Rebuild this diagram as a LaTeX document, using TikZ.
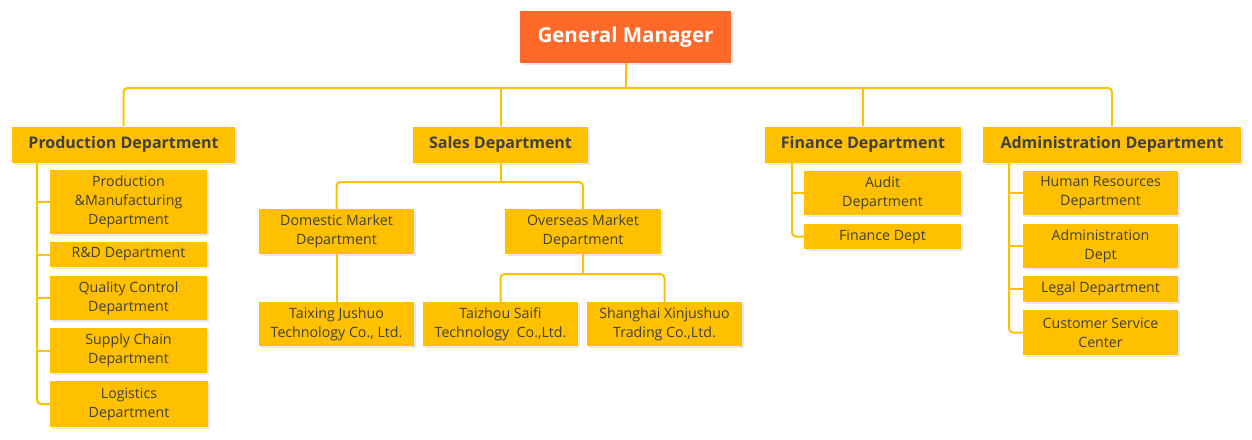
\documentclass[tikz,border=0pt]{standalone}
\usepackage{fontspec}
\setmainfont{Open Sans}
\usetikzlibrary{shadows}

\definecolor{gold}{HTML}{FFC000}
\definecolor{boss}{HTML}{FF6A2B}
\definecolor{ink}{HTML}{404040}

\begin{document}
\begin{tikzpicture}[x=1pt, y=-1pt,
	box/.style={fill=gold, text=ink, align=center, inner sep=0pt,
		drop shadow={opacity=0.18, shadow xshift=1.5pt, shadow yshift=-2pt}},
	headbox/.style={box, font=\bfseries\fontsize{16}{19}\selectfont, minimum height=36pt},
	subbox/.style={box, font=\fontsize{14.2}{19}\selectfont},
	link/.style={draw=gold, line width=2pt, rounded corners=4pt}]

\useasboundingbox (0,0) rectangle (1252,439);

% Draws the general manager at the top
\node[box, fill=boss, text=white, font=\bfseries\fontsize{20.5}{24}\selectfont,
	minimum width=211pt, minimum height=52pt] (gm) at (625.5,37) {General Manager};

% Draws the four main departments
\node[headbox, minimum width=223pt] (prod) at (123.5,144.5) {Production Department};
\node[headbox, minimum width=175pt] (sales) at (500.5,144.5) {Sales Department};
\node[headbox, minimum width=196pt] (fin) at (863,144.5) {Finance Department};
\node[headbox, minimum width=258pt] (admin) at (1112,144.5) {Administration Department};

% Draws the units below the production department
\node[subbox, minimum width=157pt, minimum height=64pt] (pm) at (128.5,202) {Production\\\&Manufacturing\\Department};
\node[subbox, minimum width=157pt, minimum height=25pt] (rd) at (128.5,254.5) {R\&D Department};
\node[subbox, minimum width=157pt, minimum height=44pt] (qc) at (128.5,298) {Quality Control\\Department};
\node[subbox, minimum width=157pt, minimum height=45pt] (sc) at (128.5,350.5) {Supply Chain\\Department};
\node[subbox, minimum width=158pt, minimum height=46pt] (logi) at (129,404) {Logistics\\Department};

% Draws the markets and companies below the sales department
\node[subbox, minimum width=155pt, minimum height=45pt] (dom) at (336.5,231.5) {Domestic Market\\Department};
\node[subbox, minimum width=156pt, minimum height=45pt] (ovs) at (583,231.5) {Overseas Market\\Department};
\node[subbox, minimum width=155pt, minimum height=44pt] (tx) at (336.5,324) {Taixing Jushuo\\Technology Co., Ltd.};
\node[subbox, minimum width=155pt, minimum height=44pt] (tz) at (500.5,324) {Taizhou Saifi\\Technology\ \ Co.,Ltd.};
\node[subbox, minimum width=155pt, minimum height=44pt] (sh) at (664.5,324) {Shanghai Xinjushuo\\Trading Co.,Ltd.};

% Draws the units below the finance department
\node[subbox, minimum width=157pt, minimum height=44pt] (aud) at (882.5,193) {Audit\\Department};
\node[subbox, minimum width=157pt, minimum height=25pt] (fd) at (882.5,236.5) {Finance Dept};

% Draws the units below the administration department
\node[subbox, minimum width=155pt, minimum height=44pt] (hr) at (1100.5,193) {Human Resources\\Department};
\node[subbox, minimum width=155pt, minimum height=44pt] (ad) at (1100.5,246) {Administration\\Dept};
\node[subbox, minimum width=155pt, minimum height=26pt] (lg) at (1100.5,289) {Legal Department};
\node[subbox, minimum width=155pt, minimum height=45pt] (cs) at (1100.5,332.5) {Customer Service\\Center};

% Connects the general manager to the main departments
\coordinate (bus) at (625.5,88);
\draw[link] (prod.north) |- (bus) -| (admin.north);
\draw[link] (gm.south) -- (bus);
\draw[link] (sales.north) -- (sales.north |- bus);
\draw[link] (fin.north) -- (fin.north |- bus);

% Connects the production department to its units
\coordinate (ptrunk) at (37,162);
\draw[link] (ptrunk) |- (logi.west);
\foreach \n in {pm,rd,qc,sc}
	\draw[link] (ptrunk |- \n.west) -- (\n.west);

% Connects the sales department to the markets and companies
\coordinate (sbus) at (500.5,182);
\draw[link] (dom.north) |- (sbus) -| (ovs.north);
\draw[link] (sales.south) -- (sbus);
\draw[link] (dom.south) -- (tx.north);
\coordinate (obus) at (583,274);
\draw[link] (tz.north) |- (obus) -| (sh.north);
\draw[link] (ovs.south) -- (obus);

% Connects the finance department to its units
\coordinate (ftrunk) at (792,163);
\draw[link] (ftrunk) |- (fd.west);
\draw[link] (ftrunk |- aud.west) -- (aud.west);

% Connects the administration department to its units
\coordinate (atrunk) at (1009,163);
\draw[link] (atrunk) |- (cs.west);
\foreach \n in {hr,ad,lg}
	\draw[link] (atrunk |- \n.west) -- (\n.west);

\end{tikzpicture}
\end{document}
